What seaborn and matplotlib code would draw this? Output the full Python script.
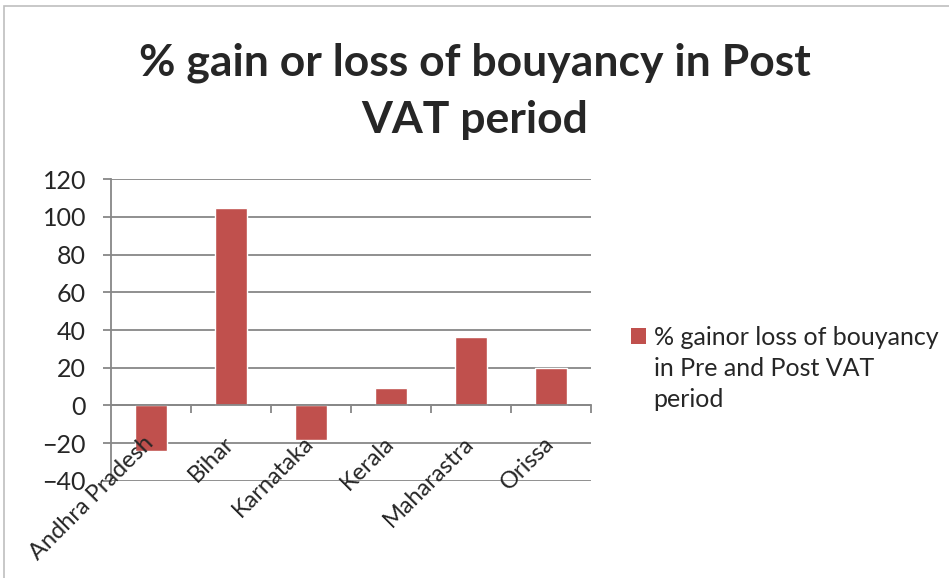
import matplotlib
matplotlib.use("Agg")
import matplotlib.pyplot as plt
import matplotlib.transforms as mtransforms
import seaborn as sns
import pandas as pd
from matplotlib.patches import Rectangle, Patch
from matplotlib.ticker import MultipleLocator

# Data
states = ["Andhra Pradesh", "Bihar", "Karnataka", "Kerala", "Maharastra", "Orissa"]
change = [-24.3, 104.5, -18.3, 9.5, 36.5, 19.7]
legend_lines = ["% gainor loss of bouyancy", "in Pre and Post VAT", "period"]
title = "% gain or loss of bouyancy in Post\nVAT period"

df = pd.DataFrame({"State": states, "Change": change})

sns.set_style("white")
plt.rcParams["font.family"] = ["Lato", "DejaVu Sans"]

fig = plt.figure(figsize=(9.49, 5.78), dpi=100)
ax = fig.add_axes([0.117, 0.168, 0.506, 0.522])

bar_color = "#C0504D"
grid_color = "#878787"

sns.barplot(data=df, x="State", y="Change", color=bar_color, width=0.4,
            saturation=1, ax=ax, zorder=3)

ax.set_ylim(-40, 120)
ax.set_xlim(-0.5, len(states) - 0.5)
ax.yaxis.set_major_locator(MultipleLocator(20))
ax.grid(axis="y", color=grid_color, linewidth=1.3, zorder=0)
ax.set_axisbelow(True)
ax.xaxis.set_zorder(5)

for s in ["top", "right"]:
    ax.spines[s].set_visible(False)
ax.spines["left"].set_color(grid_color)
ax.spines["left"].set_linewidth(1.3)
ax.spines["bottom"].set_position(("data", 0))
ax.spines["bottom"].set_color(grid_color)
ax.spines["bottom"].set_linewidth(1.3)
ax.spines["bottom"].set_zorder(4)

ax.set_xlabel("")
ax.set_ylabel("")
ax.tick_params(axis="y", which="major", left=True, length=6, width=1.3,
               color=grid_color, labelsize=18, pad=12)
ax.tick_params(axis="x", which="major", bottom=True, length=0, labelsize=17, pad=0)
ax.set_xticks([i + 0.5 for i in range(len(states))], minor=True)
ax.tick_params(axis="x", which="minor", bottom=True, length=6, width=1.3,
               color=grid_color, direction="out")
offset = mtransforms.ScaledTranslation(-0.08, -0.27, fig.dpi_scale_trans)
for lbl in ax.get_xticklabels():
    lbl.set_rotation(45)
    lbl.set_ha("right")
    lbl.set_va("top")
    lbl.set_rotation_mode("anchor")
    lbl.set_transform(lbl.get_transform() + offset)

fig.suptitle(title, fontsize=32, fontweight="bold", y=0.927, linespacing=1.52)

handles = [Patch(facecolor=bar_color, edgecolor="none"),
           Patch(facecolor="none", edgecolor="none"),
           Patch(facecolor="none", edgecolor="none")]
fig.legend(handles, legend_lines, loc="upper left", bbox_to_anchor=(0.665, 0.436),
           frameon=False, fontsize=18, handlelength=0.6, handleheight=0.6,
           handletextpad=0.3, labelspacing=0.33, borderaxespad=0, borderpad=0)

fig.patches.append(Rectangle((0.004, -0.01), 1.0, 1.0, transform=fig.transFigure,
                             fill=False, edgecolor="#BFBFBF", linewidth=1.2))

fig.savefig("out.png", dpi=100)
